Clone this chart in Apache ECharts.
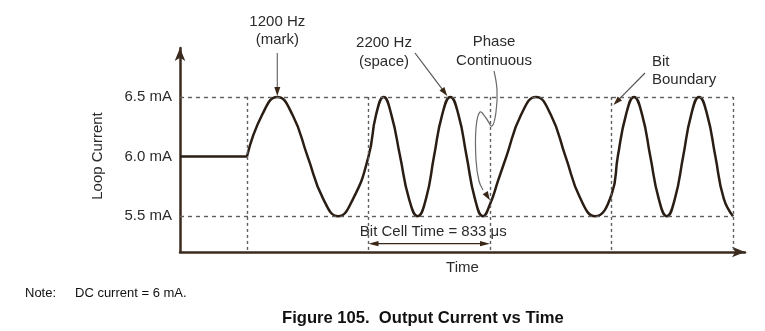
<!DOCTYPE html>
<html>
<head>
<meta charset="utf-8">
<script src="https://cdn.jsdelivr.net/npm/echarts@6/dist/echarts.min.js"></script>
<style>
  html, body { margin: 0; padding: 0; background: #fff; }
  #chart { width: 765px; height: 331px; }
</style>
</head>
<body>
<div id="chart"></div>
<script>
// Bell-202 style FSK loop current: 1200 Hz mark / 2200 Hz space, 833 µs bit cells.
const timeMinUs = -459;
const timeMaxUs = 3414;
const currentMinMa = 5.2;
const currentMaxMa = 6.91;

// Idle DC level before the first bit
const idleTimeUs = [-459, 0];
const idleCurrentMa = [6.0, 6.0];

// Modulated waveform (time in µs, loop current in mA)
const fskTimeUs = [
  0, 104, 208, 312, 416, 521, 625, 729, 833,
  885, 937, 990, 1050, 1110, 1170, 1228, 1282, 1338, 1394, 1450, 1506, 1562, 1618, 1666,
  1722, 1778, 1879, 1981, 2083, 2184, 2285, 2386, 2499,
  2542, 2598, 2653, 2709, 2765, 2822, 2878, 2934, 2990, 3045, 3099, 3155, 3211, 3268, 3332
];
const fskCurrentMa = [
  6.0, 6.35, 6.5, 6.35, 6.0, 5.65, 5.5, 5.65, 6.0,
  6.35, 6.5, 6.35, 6.0, 5.65, 5.5, 5.65, 6.0, 6.35, 6.5, 6.35, 6.0, 5.65, 5.5, 5.6,
  5.8, 6.0, 6.35, 6.5, 6.35, 6.0, 5.65, 5.5, 5.68,
  6.0, 6.35, 6.5, 6.35, 6.0, 5.65, 5.5, 5.65, 6.0, 6.35, 6.5, 6.35, 6.0, 5.65, 5.5
];

// Bit cell edges (µs) and the swing limits
const bitBoundariesUs = [0, 833, 1666, 2499, 3332];
const swingLevelsMa = [5.5, 6.5];
const bitCellUs = 833;

// Y axis tick labels
const yTickValues = [5.5, 6.0, 6.5];
const yTickLabels = ['5.5 mA', '6.0 mA', '6.5 mA'];

const FONT = '"Liberation Sans", Arial, Helvetica, sans-serif';
const TEXT = '#2b2b2b';
const INK = '#2a1d14';
const GUIDE = '#5e5e5e';

const zip = (xs, ys) => xs.map((x, i) => [x, ys[i]]);

const guideLines = [];
swingLevelsMa.forEach(v => {
  guideLines.push([
    { coord: [timeMinUs, v], lineStyle: { type: [4, 4] } },
    { coord: [bitBoundariesUs[bitBoundariesUs.length - 1], v] }
  ]);
});
bitBoundariesUs.forEach(t => {
  guideLines.push([
    { coord: [t, swingLevelsMa[1]], lineStyle: { type: [3, 3] } },
    { coord: [t, currentMinMa] }
  ]);
});

const option = {
  animation: false,
  backgroundColor: '#ffffff',
  title: {
    text: 'Figure 105.  Output Current vs Time',
    left: 282,
    top: 310,
    padding: 0,
    textStyle: { fontFamily: FONT, fontWeight: 'bold', fontSize: 16.6, color: '#111' }
  },
  grid: { left: 180, right: 20, top: 48, bottom: 79 },
  xAxis: {
    type: 'value',
    min: timeMinUs,
    max: timeMaxUs,
    name: 'Time',
    nameLocation: 'middle',
    nameGap: 8,
    nameTextStyle: { fontFamily: FONT, fontSize: 15, color: TEXT, verticalAlign: 'top' },
    axisLine: {
      show: true, onZero: false,
      symbol: ['none', 'arrow'], symbolSize: [8, 13],
      lineStyle: { color: '#3b2a1e', width: 2.5 }
    },
    axisTick: { show: false },
    axisLabel: { show: false },
    splitLine: { show: false }
  },
  yAxis: {
    type: 'value',
    min: currentMinMa,
    max: currentMaxMa,
    name: 'Loop Current',
    nameLocation: 'middle',
    nameRotate: 90,
    nameGap: 75,
    nameTextStyle: { fontFamily: FONT, fontSize: 15, color: TEXT, padding: [0, 12, 0, 0] },
    axisLine: {
      show: true, onZero: false,
      symbol: ['none', 'arrow'], symbolSize: [8, 13],
      lineStyle: { color: '#3b2a1e', width: 2.5 }
    },
    axisTick: { show: false },
    axisLabel: {
      customValues: yTickValues,
      formatter: v => {
        const i = yTickValues.findIndex(t => Math.abs(t - v) < 1e-6);
        return i >= 0 ? yTickLabels[i] : '';
      },
      margin: 8,
      fontFamily: FONT,
      fontSize: 15,
      color: TEXT
    },
    splitLine: { show: false }
  },
  series: [
    {
      name: 'guides',
      type: 'line',
      data: [],
      silent: true,
      markLine: {
        silent: true,
        symbol: 'none',
        animation: false,
        label: { show: false },
        lineStyle: { color: GUIDE, width: 1.4 },
        emphasis: { disabled: true },
        data: guideLines
      }
    },
    {
      name: 'idle',
      type: 'line',
      data: zip(idleTimeUs, idleCurrentMa),
      symbol: 'none',
      lineStyle: { color: INK, width: 2.5 },
      silent: true
    },
    {
      name: 'loop current',
      type: 'line',
      data: zip(fskTimeUs, fskCurrentMa),
      smooth: 0.5,
      symbol: 'none',
      lineStyle: { color: INK, width: 2.5, join: 'round' },
      silent: true
    }
  ]
};

const chart = echarts.init(document.getElementById('chart'), null, { renderer: 'canvas' });
chart.setOption(option);

const px = (t, v) => chart.convertToPixel({ gridIndex: 0 }, [t, v]);

function arrowHead(tip, from, len, half, fill) {
  const dx = tip[0] - from[0], dy = tip[1] - from[1];
  const d = Math.hypot(dx, dy) || 1;
  const ux = dx / d, uy = dy / d;
  const bx = tip[0] - ux * len, by = tip[1] - uy * len;
  return {
    type: 'polygon', silent: true,
    shape: { points: [tip, [bx - uy * half, by + ux * half], [bx + uy * half, by - ux * half]] },
    style: { fill: fill || '#3a2716' }
  };
}
function pointer(from, tip, stroke) {
  const dx = tip[0] - from[0], dy = tip[1] - from[1];
  const d = Math.hypot(dx, dy);
  const end = [tip[0] - dx / d * 6, tip[1] - dy / d * 6];
  return [
    { type: 'line', silent: true, shape: { x1: from[0], y1: from[1], x2: end[0], y2: end[1] },
      style: { stroke: stroke || '#6b6b6b', lineWidth: 1.2 } },
    arrowHead(tip, from, 9, 3)
  ];
}
function text(str, x, y, align, size, weight, color) {
  return {
    type: 'text', silent: true, x, y,
    style: {
      text: str, fill: color || TEXT, align: align || 'center', verticalAlign: 'middle',
      fontFamily: FONT, fontSize: size || 15, fontWeight: weight || 'normal'
    }
  };
}

const els = [];

// 1200 Hz (mark) pointer onto the first crest
const markPeak = px(fskTimeUs[2], fskCurrentMa[2]);
els.push(text('1200 Hz', markPeak[0], 22), text('(mark)', markPeak[0], 40));
els.push(...pointer([markPeak[0], 53], [markPeak[0], markPeak[1] - 1]));

// 2200 Hz (space) pointer onto the second short crest
const spacePeak = px(fskTimeUs[18], fskCurrentMa[18]);
els.push(text('2200 Hz', 384, 43), text('(space)', 384, 62));
els.push(...pointer([415, 53], [spacePeak[0] - 3, spacePeak[1] - 1], '#555'));

// Phase continuous callout, curling down to the bit edge
const joinPt = px(bitBoundariesUs[2], fskCurrentMa[23]);
els.push(text('Phase', 494, 42), text('Continuous', 494, 61));
const curl = [[494, 71], [497, 90], [496, 112], [492, 126], [486, 118], [480, 112],
              [476, 128], [476, 160], [479, 181], [483, 190]];
els.push({ type: 'polyline', silent: true, shape: { points: curl, smooth: 0.4 },
           style: { stroke: '#6b6b6b', lineWidth: 1.2, fill: null } });
els.push(arrowHead([joinPt[0], joinPt[1] - 4], [481, 186], 9, 3));

// Bit boundary pointer
const edgePt = px(bitBoundariesUs[3], swingLevelsMa[1]);
els.push(text('Bit', 652, 62, 'left'), text('Boundary', 652, 80, 'left'));
els.push(...pointer([645, 73], [edgePt[0] + 2, edgePt[1] + 8], '#555'));

// Bit cell time dimension arrow
const cellY = 5.27;
const cellA = px(bitBoundariesUs[1], cellY);
const cellB = px(bitBoundariesUs[1] + bitCellUs, cellY);
els.push({ type: 'line', silent: true,
           shape: { x1: cellA[0] + 6, y1: cellA[1], x2: cellB[0] - 6, y2: cellB[1] },
           style: { stroke: '#3a2716', lineWidth: 1.2 } });
els.push(arrowHead(cellA, [cellA[0] + 10, cellA[1]], 10, 2.6));
els.push(arrowHead(cellB, [cellB[0] - 10, cellB[1]], 10, 2.6));
els.push(text('Bit Cell Time = 833 \u03bcs', (cellA[0] + cellB[0]) / 2 + 4, cellA[1] - 12));

// Footnote
els.push(text('Note:', 25, 293, 'left', 13, 'normal', '#111'));
els.push(text('DC current = 6 mA.', 75, 293, 'left', 13, 'normal', '#111'));

chart.setOption({ graphic: els });
</script>
</body>
</html>
